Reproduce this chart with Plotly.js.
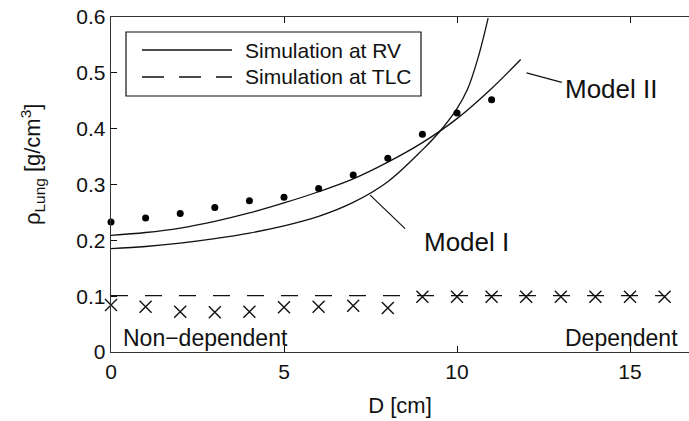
<!DOCTYPE html>
<html>
<head>
<meta charset="utf-8">
<script src="https://cdn.plot.ly/plotly-3.0.1.min.js"></script>
<style>html,body{margin:0;padding:0;background:#fff;}#chart{width:689px;height:421px;}</style>
</head>
<body>
<div id="chart"></div>
<script>
// ---- data ----
const modelI_D   = [0, 1, 2, 3, 4, 5, 6, 7, 8, 9, 9.5, 10, 10.3, 10.6, 10.9];
const modelI_rho = [0.185, 0.189, 0.195, 0.203, 0.213, 0.226, 0.243, 0.268, 0.305, 0.362, 0.395, 0.436, 0.47, 0.525, 0.598];
const modelII_D   = [0, 1, 2, 3, 4, 5, 6, 7, 8, 9, 10, 11, 11.84];
const modelII_rho = [0.209, 0.214, 0.222, 0.234, 0.249, 0.267, 0.287, 0.310, 0.340, 0.375, 0.418, 0.472, 0.524];
const dots_D   = [0, 1, 2, 3, 4, 5, 6, 7, 8, 9, 10, 11];
const dots_rho = [0.233, 0.240, 0.248, 0.259, 0.271, 0.277, 0.293, 0.317, 0.347, 0.390, 0.428, 0.452];
const cross_D   = [0, 1, 2, 3, 4, 5, 6, 7, 8, 9, 10, 11, 12, 13, 14, 15, 16];
const cross_rho = [0.084, 0.081, 0.072, 0.071, 0.072, 0.080, 0.081, 0.083, 0.079, 0.099, 0.099, 0.099, 0.099, 0.099, 0.099, 0.099, 0.099];
const tlc_D   = [0, 16];
const tlc_rho = [0.101, 0.101];
const xTicks = [0, 5, 10, 15];
const xTickText = ['0', '5', '10', '15'];
const yTicks = [0, 0.1, 0.2, 0.3, 0.4, 0.5, 0.6];
const yTickText = ['0', '0.1', '0.2', '0.3', '0.4', '0.5', '0.6'];
const legendLabels = ['Simulation at RV', 'Simulation at TLC'];

// ---- layout geometry (pixels) ----
const W = 689, H = 421;
const L = 111, R = 0, T = 17, B = 69;
const PW = W - L - R, PH = H - T - B;
const px = v => (v - L) / PW;
const py = v => (H - B - v) / PH;
const FONT = '"Liberation Sans", Arial, sans-serif';
const INK = '#111';

const traces = [
  {x: modelI_D, y: modelI_rho, mode: 'lines', line: {color: INK, width: 1.3, shape: 'spline', smoothing: 1}, showlegend: false},
  {x: modelII_D, y: modelII_rho, mode: 'lines', line: {color: INK, width: 1.3, shape: 'spline', smoothing: 1}, showlegend: false},
  {x: tlc_D, y: tlc_rho, mode: 'lines', line: {color: INK, width: 1.3, dash: '17px,17px'}, showlegend: false},
  {x: dots_D, y: dots_rho, mode: 'markers', marker: {color: '#000', size: 7, symbol: 'circle'}, showlegend: false, cliponaxis: false},
  {x: cross_D, y: cross_rho, mode: 'markers', marker: {color: INK, size: 12, symbol: 'x-thin-open', line: {color: INK, width: 1.4}}, showlegend: false, cliponaxis: false}
];

const shapes = [
  // legend box
  {type: 'rect', xref: 'paper', yref: 'paper', x0: px(126), x1: px(421), y0: py(32), y1: py(96), line: {color: INK, width: 1.2}, fillcolor: '#fff', layer: 'above'},
  {type: 'line', xref: 'paper', yref: 'paper', x0: px(142), x1: px(232), y0: py(50), y1: py(50), line: {color: INK, width: 1.3}, layer: 'above'},
  {type: 'line', xref: 'paper', yref: 'paper', x0: px(142), x1: px(232), y0: py(77), y1: py(77), line: {color: INK, width: 1.3, dash: '22px,15px'}, layer: 'above'},
  // leader lines
  {type: 'line', xref: 'x', yref: 'y', x0: 7.49, y0: 0.281, x1: 8.50, y1: 0.221, line: {color: INK, width: 1.2}},
  {type: 'line', xref: 'x', yref: 'y', x0: 12.01, y0: 0.500, x1: 13.03, y1: 0.483, line: {color: INK, width: 1.2}}
];

const annotations = [
  {xref: 'paper', yref: 'paper', x: px(243), y: py(50), xanchor: 'left', yanchor: 'middle', text: legendLabels[0], showarrow: false, font: {family: FONT, size: 21, color: INK}},
  {xref: 'paper', yref: 'paper', x: px(243), y: py(77), xanchor: 'left', yanchor: 'middle', text: legendLabels[1], showarrow: false, font: {family: FONT, size: 21, color: INK}},
  {xref: 'x', yref: 'y', x: 9.0, y: 0.197, xanchor: 'left', yanchor: 'middle', text: 'Model I', showarrow: false, font: {family: FONT, size: 26, color: INK}},
  {xref: 'x', yref: 'y', x: 13.06, y: 0.471, xanchor: 'left', yanchor: 'middle', text: 'Model II', showarrow: false, font: {family: FONT, size: 26, color: INK}},
  {xref: 'paper', yref: 'paper', x: px(121), y: py(338), xanchor: 'left', yanchor: 'middle', text: 'Non\u2212dependent', showarrow: false, font: {family: FONT, size: 23, color: INK}},
  {xref: 'paper', yref: 'paper', x: px(680), y: py(338), xanchor: 'right', yanchor: 'middle', text: 'Dependent', showarrow: false, font: {family: FONT, size: 23, color: INK}},
  {xref: 'paper', yref: 'paper', x: px(32), y: py(164), xanchor: 'center', yanchor: 'middle', textangle: -90, text: '\u03c1<sub>Lung</sub> [g/cm<sup>3</sup>]', showarrow: false, font: {family: FONT, size: 22, color: INK}}
];

const layout = {
  width: W, height: H,
  margin: {l: L, r: R, t: T, b: B, pad: 0},
  paper_bgcolor: '#fff', plot_bgcolor: '#fff',
  font: {family: FONT, size: 21, color: INK},
  showlegend: false,
  xaxis: {
    range: [0, PW / 34.6], tickvals: xTicks, ticktext: xTickText,
    ticks: 'inside', ticklen: 6, tickwidth: 1, tickcolor: INK,
    showline: true, linecolor: '#333', linewidth: 1.3, mirror: 'ticks',
    showgrid: false, zeroline: false,
    tickfont: {family: FONT, size: 21, color: INK},
    title: {text: 'D [cm]', font: {family: FONT, size: 22, color: INK}, standoff: 16}
  },
  yaxis: {
    range: [0, 0.6], tickvals: yTicks, ticktext: yTickText,
    ticks: 'inside', ticklen: 6, tickwidth: 1, tickcolor: INK,
    showline: true, linecolor: '#333', linewidth: 1.3,
    showgrid: false, zeroline: false,
    tickfont: {family: FONT, size: 21, color: INK}
  },
  shapes: shapes,
  annotations: annotations
};

Plotly.newPlot('chart', traces, layout, {displayModeBar: false, staticPlot: true});
</script>
</body>
</html>
